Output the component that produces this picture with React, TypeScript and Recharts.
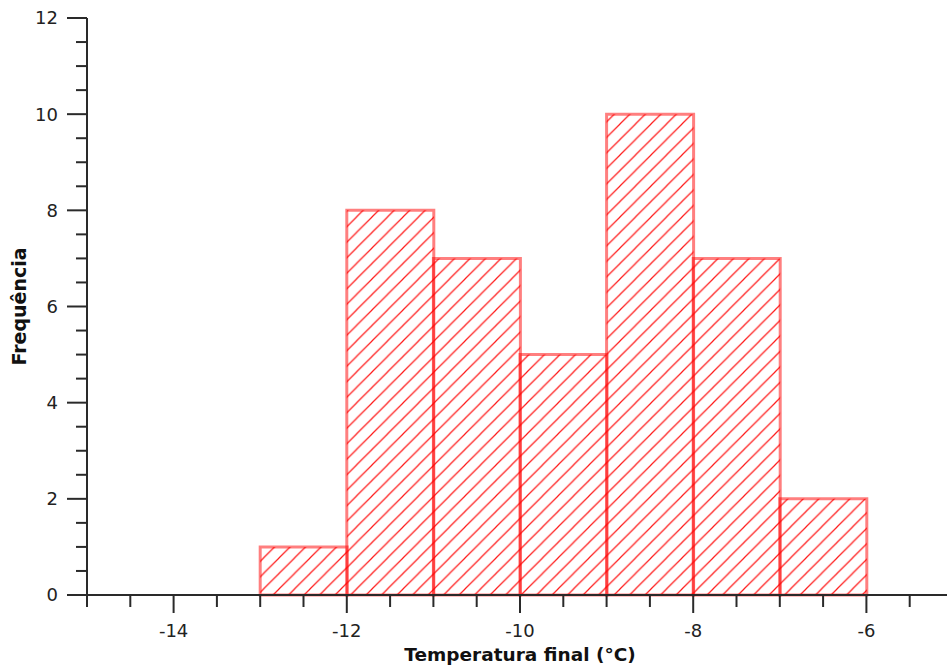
import { BarChart, Bar, XAxis, YAxis } from "recharts";

// histogram bins (class midpoints, width 1 °C) and counts
const binMids = [-12.5, -11.5, -10.5, -9.5, -8.5, -7.5, -6.5];
const frequencies = [1, 8, 7, 5, 10, 7, 2];

const xTicks = [
  -15, -14.5, -14, -13.5, -13, -12.5, -12, -11.5, -11, -10.5, -10, -9.5, -9,
  -8.5, -8, -7.5, -7, -6.5, -6, -5.5,
];
const xLabeled = [-14, -12, -10, -8, -6];
const yTicks = [
  0, 0.5, 1, 1.5, 2, 2.5, 3, 3.5, 4, 4.5, 5, 5.5, 6, 6.5, 7, 7.5, 8, 8.5, 9,
  9.5, 10, 10.5, 11, 11.5, 12,
];
const yLabeled = [0, 2, 4, 6, 8, 10, 12];

const data = binMids.map((mid, i) => ({ mid, freq: frequencies[i] }));

const AXIS = "#2a2a2a";
const FONT = "'DejaVu Sans', Verdana, sans-serif";

function XTick({ x, y, payload }: any) {
  const major = xLabeled.includes(payload.value);
  return (
    <g>
      <line x1={x} x2={x} y1={y} y2={y + (major ? 18 : 12)} stroke={AXIS} strokeWidth={2} />
      {major && (
        <text x={x} y={y + 42} textAnchor="middle" fontSize={18} fontFamily={FONT} fill="#222">
          {String(payload.value)}
        </text>
      )}
    </g>
  );
}

function YTick({ x, y, payload }: any) {
  const major = yLabeled.includes(payload.value);
  return (
    <g>
      <line x1={x - (major ? 20 : 11)} x2={x} y1={y} y2={y} stroke={AXIS} strokeWidth={2} />
      {major && (
        <text x={x - 29} y={y} dy="0.36em" textAnchor="end" fontSize={18} fontFamily={FONT} fill="#222">
          {String(payload.value)}
        </text>
      )}
    </g>
  );
}

export default function App() {
  return (
    <div
      style={{
        position: "absolute",
        left: 0,
        top: 0,
        width: 947,
        height: 669,
        overflow: "hidden",
        background: "#fff",
      }}
    >
      <BarChart
        width={960}
        height={669}
        data={data}
        margin={{ top: 18, right: 7, left: 0, bottom: 0 }}
        barCategoryGap={0}
        barGap={0}
      >
        <defs>
          <pattern id="hatch" patternUnits="userSpaceOnUse" width={15.5} height={15.5}>
            <path
              d="M0,15.5 L15.5,0 M-2,2 L2,-2 M13.5,17.5 L17.5,13.5"
              stroke="#ff1a1a"
              strokeWidth={1.2}
            />
          </pattern>
        </defs>
        <XAxis
          dataKey="mid"
          type="number"
          domain={[-15, -5]}
          allowDataOverflow
          ticks={xTicks}
          interval={0}
          height={74}
          tickSize={0}
          tickMargin={0}
          tickLine={false}
          axisLine={{ stroke: AXIS, strokeWidth: 2 }}
          tick={<XTick />}
          label={{
            content: (p: any) => {
              const vb = p.viewBox;
              return (
                <text
                  x={vb.x + vb.width / 2}
                  y={vb.y + 66}
                  textAnchor="middle"
                  fontSize={18.5}
                  fontWeight="bold"
                  fontFamily={FONT}
                  fill="#111"
                >
                  Temperatura final (°C)
                </text>
              );
            },
          }}
        />
        <YAxis
          type="number"
          domain={[0, 12]}
          ticks={yTicks}
          interval={0}
          width={87}
          tickSize={0}
          tickMargin={0}
          tickLine={false}
          axisLine={{ stroke: AXIS, strokeWidth: 2 }}
          tick={<YTick />}
          label={{
            content: (p: any) => {
              const vb = p.viewBox;
              const cx = 19;
              const cy = vb.y + vb.height / 2;
              return (
                <text
                  x={cx}
                  y={cy}
                  dy="0.36em"
                  transform={`rotate(-90, ${cx}, ${cy})`}
                  textAnchor="middle"
                  fontSize={19}
                  fontWeight="bold"
                  fontFamily={FONT}
                  fill="#111"
                >
                  Frequência
                </text>
              );
            },
          }}
        />
        <Bar
          dataKey="freq"
          fill="url(#hatch)"
          stroke="#ff0000"
          strokeOpacity={0.5}
          strokeWidth={3}
          isAnimationActive={false}
        />
      </BarChart>
    </div>
  );
}
